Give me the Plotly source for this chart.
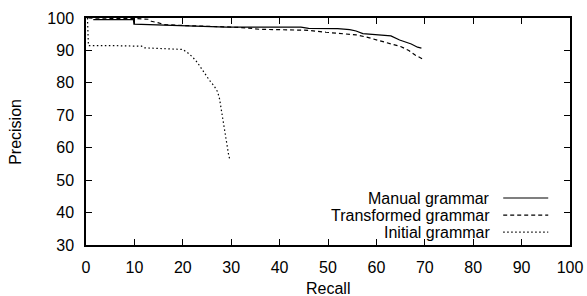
import plotly.graph_objects as go

# Data
manual_recall = [1.5, 9.8, 9.9, 17, 20, 26, 29, 33, 36, 40, 44.4, 46, 50, 52, 54.5, 55.8, 57.2, 60, 63, 64.8, 66, 67.2, 68.5, 69.3]
manual_precision = [99.5, 99.5, 98.1, 97.7, 97.6, 97.4, 97.2, 97.2, 97.2, 97.2, 97.2, 96.8, 96.7, 96.7, 96.4, 96.0, 95.2, 94.9, 94.5, 93.2, 92.6, 92.0, 91.0, 90.7]

transformed_recall = [0.5, 9.6, 10.5, 13.0, 13.5, 15.0, 16.0, 20, 25, 30, 33.6, 36, 40, 46, 49.6, 53, 55.8, 58, 60, 63.1, 65, 66.7, 68, 69.6]
transformed_precision = [100, 100, 99.8, 99.6, 99.0, 98.5, 98.0, 97.7, 97.5, 97.2, 96.9, 96.5, 96.4, 96.2, 95.6, 95.2, 94.8, 94.1, 93.3, 92.0, 91.2, 90.0, 88.6, 87.3]

initial_recall = [0.3, 0.5, 5, 10, 11.5, 12, 15, 20, 21, 22, 23, 24, 25, 25.5, 26.5, 27.2, 27.6, 28, 28.5, 29, 29.5, 29.8]
initial_precision = [100, 91.5, 91.5, 91.5, 91.3, 90.8, 90.6, 90.3, 89.3, 88.0, 86.3, 84.0, 81.8, 80.8, 79.0, 77.2, 75.0, 71.0, 66.5, 61.5, 57.5, 56.0]

series_names = ["Manual grammar", "Transformed grammar", "Initial grammar"]
series_dash = ["solid", "4px,3px", "1.5px,2.5px"]

x_ticks = [0, 10, 20, 30, 40, 50, 60, 70, 80, 90, 100]
y_ticks = [30, 40, 50, 60, 70, 80, 90, 100]

FONT = "Liberation Sans, Arial, sans-serif"
FS = 16

fig = go.Figure()
for name, xs, ys, dash in zip(
    series_names,
    [manual_recall, transformed_recall, initial_recall],
    [manual_precision, transformed_precision, initial_precision],
    series_dash,
):
    fig.add_trace(go.Scatter(x=xs, y=ys, mode="lines", name=name,
                             line=dict(color="black", width=1.2, dash=dash),
                             showlegend=False, hoverinfo="skip"))

# Legend drawn gnuplot-style: right-aligned text with line sample on the right
legend_rows_y = [0.207, 0.132, 0.057]
for name, dash, ly in zip(series_names, series_dash, legend_rows_y):
    fig.add_annotation(x=0.839, y=ly, xref="paper", yref="paper", text=name,
                       showarrow=False, xanchor="right", yanchor="middle",
                       font=dict(family=FONT, size=FS, color="black"))
    fig.add_shape(type="line", xref="paper", yref="paper",
                  x0=0.862, x1=0.955, y0=ly, y1=ly,
                  line=dict(color="black", width=1.2, dash=dash))

# Axis titles
fig.add_annotation(x=0.5, y=-0.19, xref="paper", yref="paper", text="Recall",
                   showarrow=False, xanchor="center", yanchor="middle",
                   font=dict(family=FONT, size=FS, color="black"))
fig.add_annotation(x=-0.146, y=0.5, xref="paper", yref="paper", text="Precision",
                   showarrow=False, xanchor="center", yanchor="middle", textangle=-90,
                   font=dict(family=FONT, size=FS, color="black"))

axis_common = dict(showline=True, linecolor="black", linewidth=1.5, mirror="ticks",
                   ticks="inside", ticklen=6, tickwidth=1.2, tickcolor="black",
                   showgrid=False, zeroline=False, automargin=False,
                   tickfont=dict(family=FONT, size=FS, color="black"))

fig.update_xaxes(range=[0, 100], tickvals=x_ticks, ticklabelstandoff=7, **axis_common)
fig.update_yaxes(range=[30, 100], tickvals=y_ticks, ticklabelstandoff=7, **axis_common)

fig.update_layout(width=587, height=296,
                  margin=dict(l=86, r=17, t=18, b=51, pad=0),
                  paper_bgcolor="white", plot_bgcolor="white",
                  font=dict(family=FONT, size=FS, color="black"))

fig.write_html("out.html", config={"displayModeBar": False},
               post_script="document.body.style.margin='0';document.body.style.overflow='hidden';")
